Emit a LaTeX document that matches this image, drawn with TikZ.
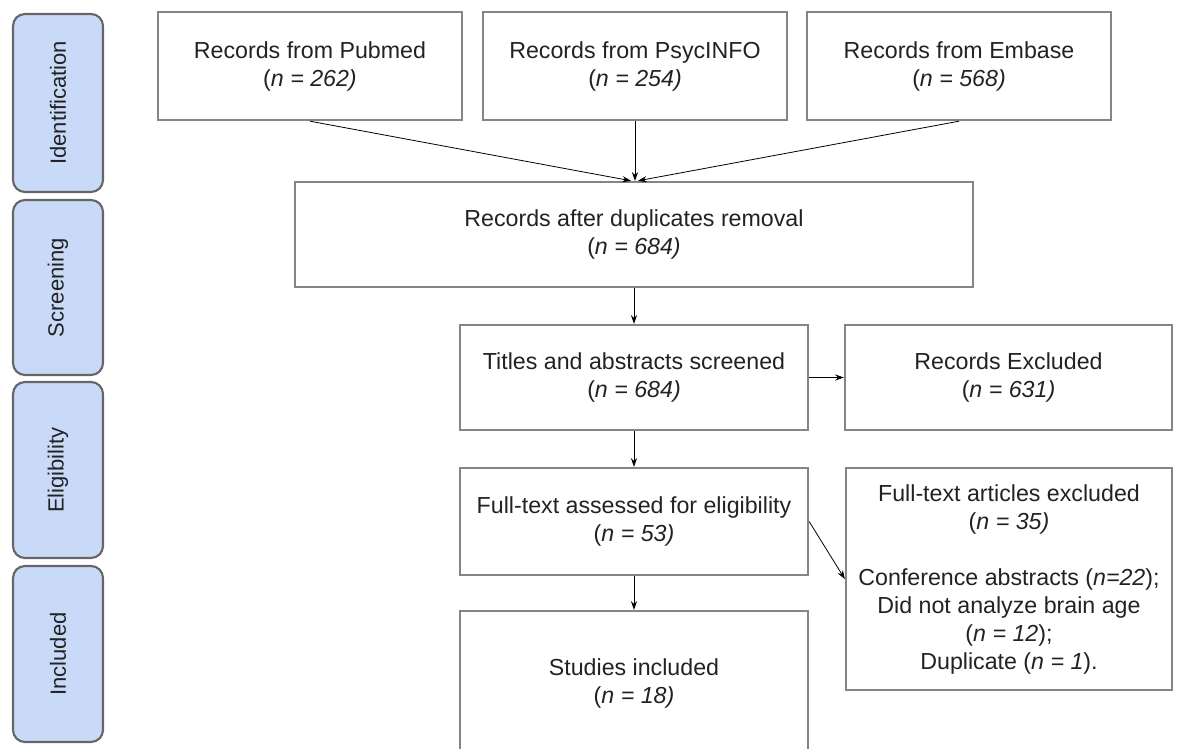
\documentclass[tikz,border=0pt]{standalone}
\usepackage{fontspec}
\setmainfont{Liberation Sans}
\usetikzlibrary{arrows.meta,calc}
\definecolor{stagefill}{HTML}{C9DAF8}
\definecolor{stageline}{HTML}{666666}
\definecolor{boxline}{HTML}{858585}
\definecolor{txt}{HTML}{222222}
\begin{document}
\begin{tikzpicture}[x=0.75pt,y=-0.75pt,
  every node/.style={text=txt},
  stagebox/.style={draw=stageline,line width=1.6pt,fill=stagefill,rounded corners=9pt,
    minimum width=90*0.75pt,inner sep=0pt,rotate=90,font=\fontsize{16.5}{20}\selectfont},
  flowbox/.style={draw=boxline,line width=1.8pt,align=center,inner sep=0pt,
    font=\fontsize{17.4}{21}\selectfont},
  conn/.style={draw=black,line width=0.6pt,-{Stealth[length=6.5pt,width=4.6pt]}}]
\useasboundingbox (0,0) rectangle (1186,749);
\clip (0,0) rectangle (1186,749);
% stage labels
\node[stagebox,minimum width=178*0.75pt,minimum height=90*0.75pt] (s1) at (58,103) {Identification};
\node[stagebox,minimum width=175*0.75pt,minimum height=90*0.75pt] (s2) at (58,287.5) {Screening};
\node[stagebox,minimum width=176*0.75pt,minimum height=90*0.75pt] (s3) at (58,470) {Eligibility};
\node[stagebox,minimum width=176*0.75pt,minimum height=90*0.75pt] (s4) at (58,654) {Included};
% flow boxes
\node[flowbox,minimum width=304*0.75pt,minimum height=108*0.75pt] (pub) at (310,66)
  {Records from Pubmed\\(\textit{n = 262)}};
\node[flowbox,minimum width=304*0.75pt,minimum height=108*0.75pt] (psy) at (635,66)
  {Records from PsycINFO\\(\textit{n = 254)}};
\node[flowbox,minimum width=304*0.75pt,minimum height=108*0.75pt] (emb) at (959,66)
  {Records from Embase\\(\textit{n = 568)}};
\node[flowbox,minimum width=678*0.75pt,minimum height=105*0.75pt] (dup) at (634,234.5)
  {Records after duplicates removal\\(\textit{n = 684)}};
\node[flowbox,minimum width=348*0.75pt,minimum height=105*0.75pt] (tit) at (634,377.5)
  {Titles and abstracts screened\\(\textit{n = 684)}};
\node[flowbox,minimum width=327*0.75pt,minimum height=105*0.75pt] (exc) at (1008.5,377.5)
  {Records Excluded\\(\textit{n = 631)}};
\node[flowbox,minimum width=348*0.75pt,minimum height=107*0.75pt] (ful) at (634,521.5)
  {Full-text assessed for eligibility\\(\textit{n = 53)}};
\node[flowbox,minimum width=326*0.75pt,minimum height=222*0.75pt] (fex) at (1009,579)
  {Full-text articles excluded\\(\textit{n = 35)}\\[21pt]Conference abstracts (\textit{n=22});\\Did not analyze brain age\\(\textit{n = 12});\\Duplicate (\textit{n = 1}).};
\node[flowbox,minimum width=348*0.75pt,minimum height=144*0.75pt] (stu) at (634,683)
  {Studies included\\(\textit{n = 18)}};
% connectors
\draw[conn] (pub.south) -- ($(dup.north)+(-3,0)$);
\draw[conn] (psy.south) -- ($(dup.north)+(1,0)$);
\draw[conn] (emb.south) -- ($(dup.north)+(4,0)$);
\draw[conn] (dup.south) -- (tit.north);
\draw[conn] (tit.east) -- (exc.west);
\draw[conn] (tit.south) -- (ful.north);
\draw[conn] (ful.east) -- (fex.west);
\draw[conn] (ful.south) -- (stu.north);
\end{tikzpicture}
\end{document}
